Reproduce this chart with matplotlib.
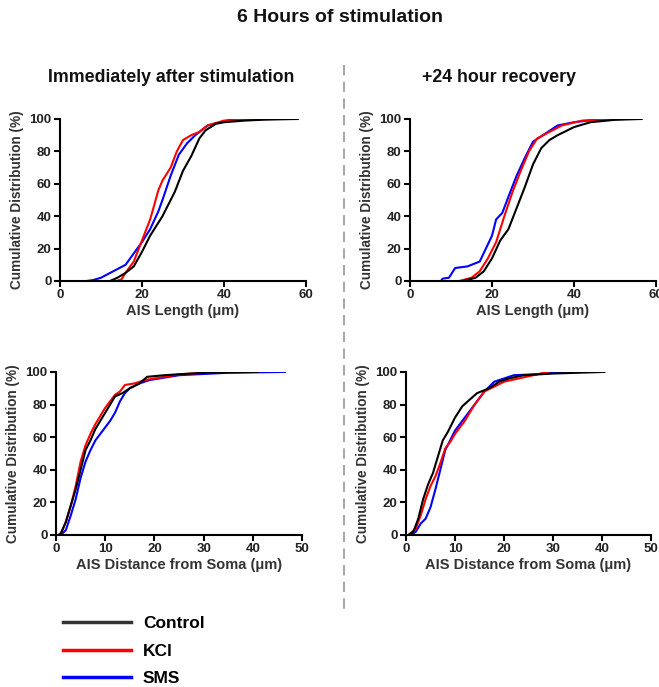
import matplotlib
matplotlib.use("Agg")
import matplotlib.pyplot as plt
from matplotlib.lines import Line2D

plt.rcParams['font.family'] = ['Liberation Sans', 'DejaVu Sans']

# cumulative distribution curves (x value, percent)
# top-left: AIS length, immediately after stimulation
len_now_ctrl_x = [12.2, 14, 16, 18, 20, 22, 25, 28, 30, 32, 34, 35.5, 38, 40, 45, 50, 58]
len_now_ctrl_y = [0, 2, 5, 9, 18, 28, 40, 55, 68, 77, 88, 93, 97, 98, 99, 99.6, 100]
len_now_kcl_x = [13.8, 15, 16, 18, 20, 22, 24, 25, 27, 28.5, 30, 32, 34, 36, 40, 45, 52]
len_now_kcl_y = [0, 1, 5, 12, 25, 38, 56, 62, 70, 80, 87, 90, 92, 96, 99, 99.6, 100]
len_now_sms_x = [6.5, 8, 10, 13, 16, 18, 20, 22, 24, 25, 27, 29, 31, 33, 35, 36, 39, 42.5]
len_now_sms_y = [0, 0.5, 2, 6, 10, 17, 24, 32, 43, 50, 65, 78, 85, 90, 94, 96, 98, 100]

# top-right: AIS length, +24 h recovery
len_rec_ctrl_x = [13, 16, 18, 20, 22, 24, 26, 28, 30, 32, 34, 36, 40, 44, 50, 56.5]
len_rec_ctrl_y = [0, 2, 6, 14, 25, 32, 45, 58, 72, 82, 87, 90, 95, 98, 99.5, 100]
len_rec_kcl_x = [12, 15, 17, 19, 21, 23, 25, 27, 29, 31, 34, 37, 42, 47, 52]
len_rec_kcl_y = [0, 2, 6, 14, 24, 40, 55, 68, 80, 88, 92, 96, 99, 99.7, 100]
len_rec_sms_x = [7.5, 8, 9.5, 11, 14, 17, 18.5, 20, 21, 22.5, 24, 26, 28, 30, 33, 36, 40, 45, 52]
len_rec_sms_y = [0, 1.5, 2, 8, 9, 12, 20, 28, 38, 42, 52, 65, 76, 86, 91, 96, 98, 99.5, 100]

# bottom-left: AIS distance from soma, immediately after stimulation
dist_now_ctrl_x = [0.5, 1, 2, 3, 4, 5, 6, 7, 8, 9, 10, 11, 12, 13.5, 15, 17, 18.5, 22, 30, 41]
dist_now_ctrl_y = [0, 1, 8, 18, 28, 40, 52, 58, 65, 70, 75, 80, 85, 87, 90, 93, 97, 98, 99.5, 100]
dist_now_kcl_x = [0.5, 1, 2, 3, 4, 5, 6, 7, 8, 9, 10, 11, 12, 13, 14, 16, 18, 20, 25, 33]
dist_now_kcl_y = [0, 1, 8, 18, 30, 45, 55, 62, 68, 73, 78, 82, 86, 88, 92, 93, 95, 96, 98.5, 100]
dist_now_sms_x = [1, 2, 3, 4, 5, 6, 7, 8, 9, 10, 11, 12, 13, 14, 15, 17, 19, 21, 25, 35, 46.5]
dist_now_sms_y = [0, 3, 12, 22, 35, 45, 52, 58, 62, 66, 70, 75, 82, 87, 90, 93, 95, 96, 98, 99.5, 100]

# bottom-right: AIS distance from soma, +24 h recovery
dist_rec_ctrl_x = [0.5, 1.5, 2.5, 3.5, 4.5, 5.5, 6.5, 7.5, 8.5, 10, 11.5, 13, 14.5, 17, 19, 21, 24, 30, 35, 40.5]
dist_rec_ctrl_y = [0, 2, 10, 22, 31, 38, 48, 58, 63, 72, 79, 83, 87, 90, 94, 96, 98, 99, 99.5, 100]
dist_rec_kcl_x = [0.5, 2, 3, 4, 5, 6, 7, 8, 9, 10, 12, 14, 16, 18, 20, 23, 26, 29]
dist_rec_kcl_y = [0, 4, 12, 22, 30, 36, 44, 53, 57, 62, 70, 80, 88, 91, 94, 96, 98, 100]
dist_rec_sms_x = [1, 2, 3, 4, 5, 6, 7, 8, 9, 10, 12, 14, 16, 18, 20, 22, 26, 32.5]
dist_rec_sms_y = [0, 2, 7, 10, 17, 28, 40, 52, 58, 64, 72, 80, 88, 94, 96, 98, 98.5, 100]

group_labels = ['Control', 'KCl', 'SMS']
group_colors = ['#000000', '#ff0000', '#0000ff']

fig = plt.figure(figsize=(6.59, 6.87), dpi=100)


def draw_panel(rect, curves, xmax, xticks, xlabel):
    ax = fig.add_axes(rect)
    # draw SMS, then KCl, then Control on top
    for (xs, ys), col in reversed(list(zip(curves, group_colors))):
        ax.plot(xs, ys, color=col, lw=1.5)
    ax.set_xlim(0, xmax)
    ax.set_ylim(0, 100)
    ax.set_xticks(xticks)
    ax.set_yticks([0, 20, 40, 60, 80, 100])
    for side in ['top', 'right']:
        ax.spines[side].set_visible(False)
    for side in ['left', 'bottom']:
        ax.spines[side].set_linewidth(1.5)
    ax.tick_params(direction='out', width=1.5, length=4, labelsize=9.5, pad=2)
    for lab in ax.get_xticklabels() + ax.get_yticklabels():
        lab.set_fontweight('bold')
        lab.set_color('#222222')
    ax.set_xlabel(xlabel, fontsize=10.5, color='#333333', fontweight='bold', labelpad=2)
    ax.set_ylabel('Cumulative Distribution (%)', fontsize=9.8, color='#333333',
                  fontweight='bold', labelpad=4)
    return ax


draw_panel([0.0910, 0.591, 0.3733, 0.2358],
           [(len_now_ctrl_x, len_now_ctrl_y), (len_now_kcl_x, len_now_kcl_y),
            (len_now_sms_x, len_now_sms_y)],
           60, [0, 20, 40, 60], 'AIS Length (\u03bcm)')
draw_panel([0.6222, 0.591, 0.3733, 0.2358],
           [(len_rec_ctrl_x, len_rec_ctrl_y), (len_rec_kcl_x, len_rec_kcl_y),
            (len_rec_sms_x, len_rec_sms_y)],
           60, [0, 20, 40, 60], 'AIS Length (\u03bcm)')
draw_panel([0.085, 0.2213, 0.3733, 0.2373],
           [(dist_now_ctrl_x, dist_now_ctrl_y), (dist_now_kcl_x, dist_now_kcl_y),
            (dist_now_sms_x, dist_now_sms_y)],
           50, [0, 10, 20, 30, 40, 50], 'AIS Distance from Soma (\u03bcm)')
draw_panel([0.6161, 0.2213, 0.3718, 0.2373],
           [(dist_rec_ctrl_x, dist_rec_ctrl_y), (dist_rec_kcl_x, dist_rec_kcl_y),
            (dist_rec_sms_x, dist_rec_sms_y)],
           50, [0, 10, 20, 30, 40, 50], 'AIS Distance from Soma (\u03bcm)')

fig.text(340 / 659, 1 - 17 / 687, '6 Hours of stimulation', ha='center', va='center',
         fontsize=14, fontweight='bold', color='#111111')
fig.text(171 / 659, 1 - 77 / 687, 'Immediately after stimulation', ha='center', va='center',
         fontsize=12.8, fontweight='bold', color='#111111')
fig.text(499 / 659, 1 - 77 / 687, '+24 hour recovery', ha='center', va='center',
         fontsize=12.8, fontweight='bold', color='#111111')

# dashed separator between the two columns
fig.add_artist(Line2D([344 / 659, 344 / 659], [1 - 65 / 687, 1 - 610 / 687],
                      color='#aaaaaa', lw=1.5, ls=(0, (5, 3))))

handles = [Line2D([], [], color=c, lw=2.5) for c in ['#333333', '#ff0000', '#0000ff']]
fig.legend(handles, group_labels, loc='upper left', bbox_to_anchor=(63 / 659, 1 - 616 / 687),
           frameon=False, prop={'weight': 'bold', 'size': 12.5},
           handlelength=3.9, handletextpad=0.7, labelspacing=0.72,
           borderpad=0, borderaxespad=0)

fig.savefig('out.png', dpi=100)
